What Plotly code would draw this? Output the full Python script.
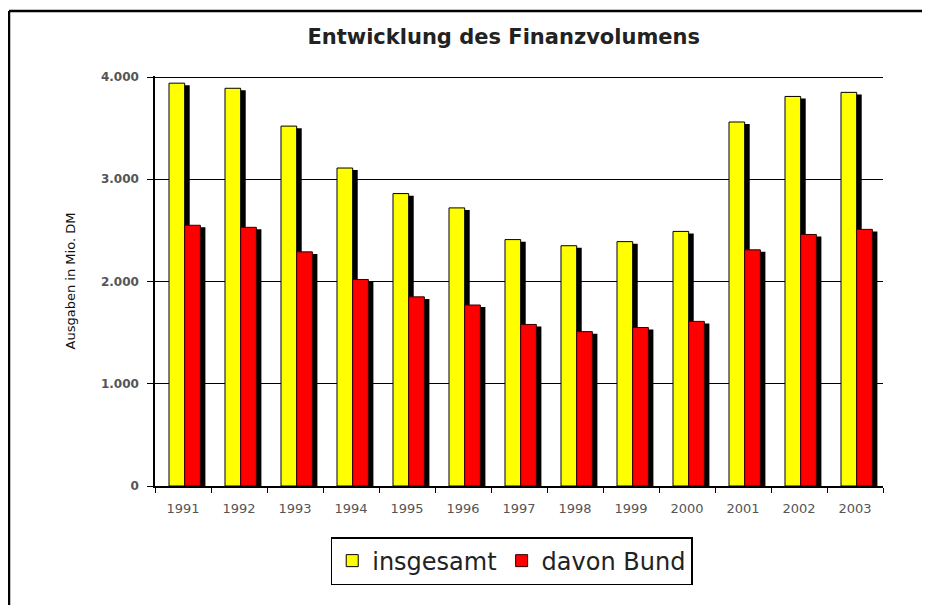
import plotly.graph_objects as go

# Entwicklung des Finanzvolumens, Ausgaben in Mio. DM
jahre = ["1991", "1992", "1993", "1994", "1995", "1996", "1997",
         "1998", "1999", "2000", "2001", "2002", "2003"]
insgesamt = [3940, 3890, 3520, 3110, 2860, 2720, 2410, 2350, 2390, 2490, 3560, 3810, 3850]
davon_bund = [2550, 2530, 2290, 2020, 1850, 1770, 1580, 1510, 1550, 1610, 2310, 2460, 2510]

y_ticks = [0, 1000, 2000, 3000, 4000]
y_labels = ["0", "1.000", "2.000", "3.000", "4.000"]

BAR_W = 0.28
SHIFT = 0.09   # shadow offset to the right (category units)
DROP = 20      # shadow drops a little below the bar top

# the page adds an 8px body margin, so plot box is placed 8px up/left
L, T, R, B = 147, 68, 55, 127
PW, PH = 930 - L - R, 605 - T - B

fig = go.Figure()

# schatten + balken, in zeichenreihenfolge
fig.add_trace(go.Bar(x=jahre, y=[v - DROP for v in insgesamt],
                     offset=-0.25 + SHIFT, width=BAR_W,
                     marker=dict(color="black", line=dict(width=0)),
                     showlegend=False, hoverinfo="skip"))
fig.add_trace(go.Bar(x=jahre, y=insgesamt, name="insgesamt",
                     offset=-0.25, width=BAR_W,
                     marker=dict(color="#ffff00", line=dict(color="black", width=1))))
fig.add_trace(go.Bar(x=jahre, y=[v - DROP for v in davon_bund],
                     offset=0.03 + SHIFT, width=BAR_W,
                     marker=dict(color="black", line=dict(width=0)),
                     showlegend=False, hoverinfo="skip"))
fig.add_trace(go.Bar(x=jahre, y=davon_bund, name="davon Bund",
                     offset=0.03, width=BAR_W,
                     marker=dict(color="#ff0000", line=dict(color="#330000", width=1))))

fig.update_layout(
    width=930, height=605,
    margin=dict(l=L, r=R, t=T, b=B),
    paper_bgcolor="white", plot_bgcolor="white",
    barmode="overlay",
    separators=",.",
    font=dict(family="DejaVu Sans, sans-serif", color="#222"),
    title=dict(text="<b>Entwicklung des Finanzvolumens</b>",
               x=0.479, xref="paper", xanchor="center",
               y=1 - 29 / 605, yref="container", yanchor="middle",
               font=dict(family="DejaVu Sans, sans-serif", size=21, color="#222")),
    legend=dict(orientation="h", x=0.49, xanchor="center", y=-0.183, yanchor="middle",
                bordercolor="black", borderwidth=1.5, bgcolor="white",
                font=dict(family="DejaVu Sans, sans-serif", size=24, color="#222"),
                itemwidth=30, tracegroupgap=0),
    hovermode="closest",
)

fig.update_xaxes(type="category", range=[-0.5, 12.5],
                 showline=True, linecolor="black", linewidth=1.5,
                 ticks="outside", tickson="boundaries", ticklen=5, tickcolor="black",
                 ticklabelstandoff=10,
                 tickfont=dict(family="DejaVu Sans, sans-serif", size=13, color="#555"),
                 showgrid=False, fixedrange=True)

fig.update_yaxes(range=[0, 4010], tickvals=y_ticks, ticktext=y_labels,
                 showline=True, linecolor="black", linewidth=1.5,
                 ticks="outside", ticklen=6, tickcolor="black",
                 ticklabelstandoff=6,
                 showgrid=True, gridcolor="black", gridwidth=1.4,
                 zeroline=False,
                 tickfont=dict(family="DejaVu Sans, sans-serif", size=12, color="#555",
                               weight="bold"),
                 title=dict(text="Ausgaben in Mio. DM", standoff=22,
                            font=dict(family="DejaVu Sans, sans-serif", size=13, color="#111")),
                 fixedrange=True)

# rahmen oben und links wie im original
top = 1 + (T - 3) / PH
fig.add_shape(type="line", xref="paper", yref="paper",
              x0=(1 - L) / PW, x1=(930 - L) / PW, y0=top, y1=top,
              line=dict(color="black", width=2.5))
fig.add_shape(type="line", xref="paper", yref="paper",
              x0=(1 - L) / PW, x1=(1 - L) / PW, y0=top, y1=-B / PH,
              line=dict(color="black", width=2.5))

fig.write_html("out.html")
